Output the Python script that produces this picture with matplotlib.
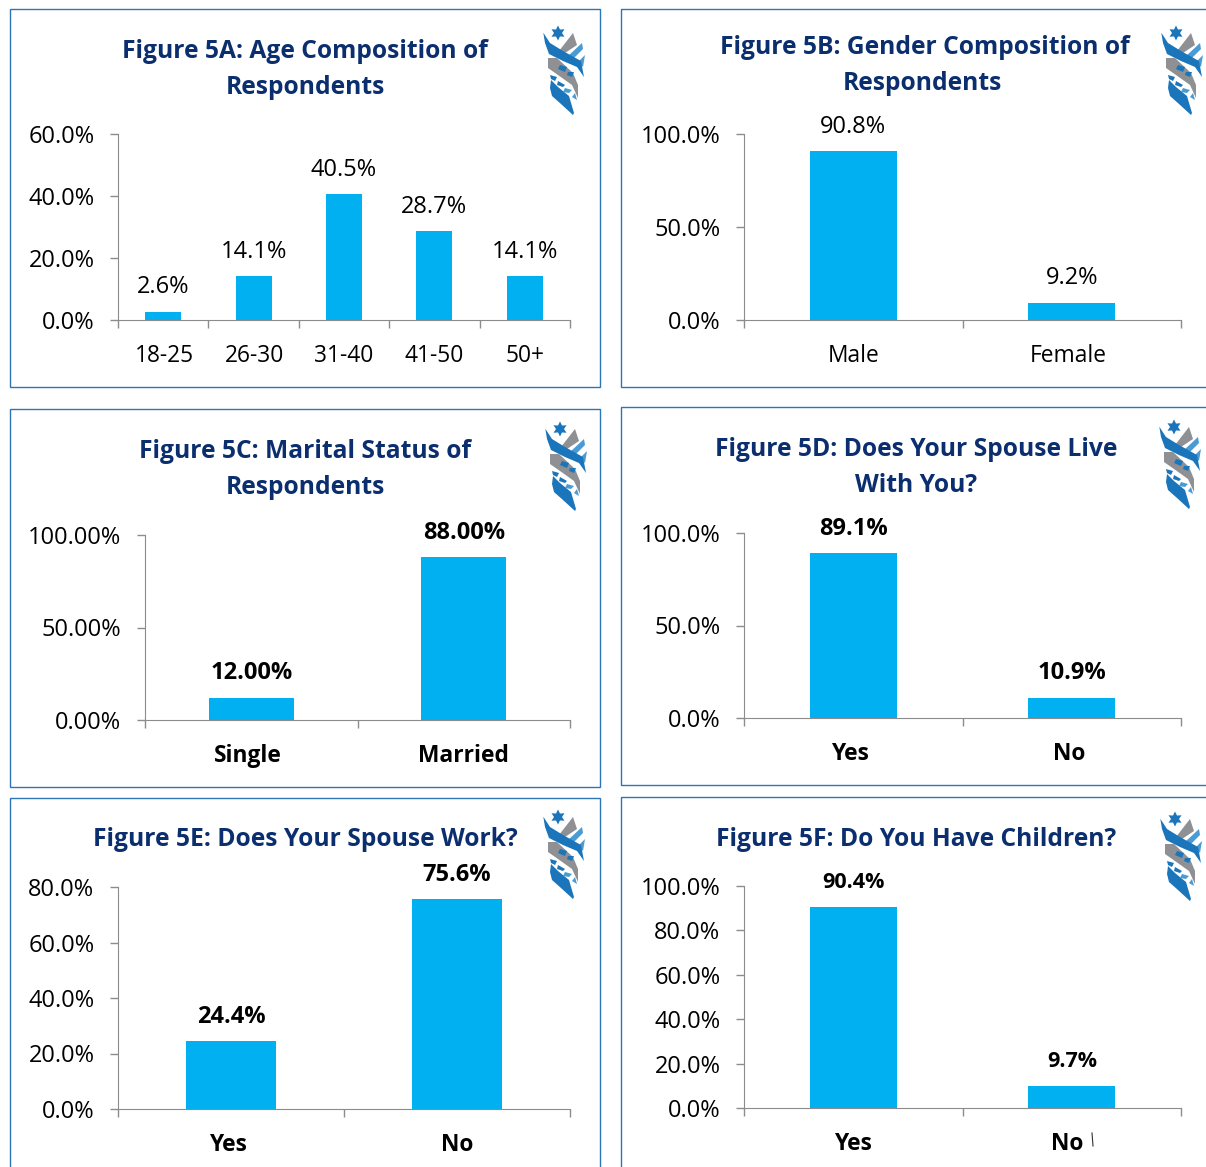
#!/usr/bin/env python3
from math import cos, sin, pi

import matplotlib
matplotlib.use("Agg")
import matplotlib.pyplot as plt
from matplotlib.patches import Polygon, Rectangle

W, H = 1206, 1167
plt.rcParams["font.family"] = ["Open Sans", "DejaVu Sans"]

# data
age_labels = ["18-25", "26-30", "31-40", "41-50", "50+"]
age_values = [2.6, 14.1, 40.5, 28.7, 14.1]
gender_labels = ["Male", "Female"]
gender_values = [90.8, 9.2]
marital_labels = ["Single", "Married"]
marital_values = [12.0, 88.0]
live_labels = ["Yes", "No"]
live_values = [89.1, 10.9]
work_labels = ["Yes", "No"]
work_values = [24.4, 75.6]
children_labels = ["Yes", "No"]
children_values = [90.4, 9.7]

BAR = "#00B0F0"
NAVY = "#0B2E6F"
FRAME = "#2E75B6"
AXIS = "#8C8C8C"
DARK = "#1B75BB"
LIGHT = "#4A9BD4"
GREY = "#8E9093"

fig = plt.figure(figsize=(W / 100, H / 100), dpi=100, facecolor="white")

# overlay in pixel coordinates, y going down
bg = fig.add_axes([0, 0, 1, 1])
bg.set_xlim(0, W)
bg.set_ylim(H, 0)
bg.axis("off")


def logo(x, y):
    # small ribbon logo, x/y is the top left corner
    def P(pts, col):
        bg.add_patch(Polygon([(x + a, y + b) for a, b in pts], closed=True, fc=col, ec="none"))

    star = []
    for i in range(12):
        r = 7.5 if i % 2 == 0 else 4
        star.append((15 + r * sin(i * pi / 6), 9 + r * cos(i * pi / 6)))
    P(star, DARK)
    P([(30, 9), (34, 21), (22, 29), (16, 27)], GREY)
    P([(39, 19), (40, 25), (29, 36), (24, 33)], LIGHT)
    P([(42, 31), (40, 43), (35, 38)], LIGHT)
    P([(0.3, 8.7), (7, 19), (20, 27), (38, 37), (41, 53), (34, 43), (20, 37), (6, 30), (2, 19)], DARK)
    P([(5, 34), (14, 34), (30, 49), (35, 61), (35, 74), (29, 61), (15, 51), (5, 44)], GREY)
    P([(17, 41), (24, 43), (22, 48), (15, 45)], DARK)
    P([(25, 48), (31, 48), (29, 53), (24, 51)], DARK)
    P([(7, 51), (14, 53), (12, 57), (8, 55)], DARK)
    P([(8, 56), (15, 63), (26, 72), (31, 89), (30, 91), (18, 80), (9, 72), (7, 64)], DARK)
    P([(15, 57), (22, 61), (20, 63), (14, 61)], DARK)
    P([(22, 64), (29, 66), (26, 69), (20, 68)], LIGHT)
    P([(32, 69), (34, 76), (29, 73)], LIGHT)


def panel(frame, box, title, title_pos, labels, values, yticks, fmt,
          logo_pos, bold=False, bar_w=0.4, label_size=17.0, label_dx=None):
    left, top, right, bottom = frame
    bg.add_patch(Rectangle((left, top), right - left, bottom - top, fc="none", ec=FRAME, lw=1.0, clip_on=False))
    for line, (tx, ty) in zip(title, title_pos):
        bg.text(tx, ty + 3, line, ha="center", va="center", fontsize=17.7, fontweight="bold", color=NAVY)
    logo(*logo_pos)

    x0, y0, x1, y1 = box
    ax = fig.add_axes([x0 / W, 1 - y1 / H, (x1 - x0 - 1) / W, (y1 - y0) / H])
    ax.patch.set_alpha(0)
    xs = list(range(len(labels)))
    ax.bar(xs, values, width=bar_w, color=BAR)
    ax.set_xlim(-0.5, len(labels) - 0.5)
    ax.set_ylim(yticks[0], yticks[-1])
    ax.set_yticks(yticks)
    ax.set_yticklabels([fmt % v for v in yticks], fontsize=17, color="black")
    ax.set_xticks([i - 0.5 for i in range(len(labels) + 1)])
    ax.set_xticklabels([])
    ax.tick_params(axis="both", length=6, width=1, color=AXIS, direction="out", pad=11)
    for side in ("top", "right"):
        ax.spines[side].set_visible(False)
    for side in ("left", "bottom"):
        ax.spines[side].set_color(AXIS)
    weight = "bold" if bold else "normal"
    dxs = label_dx or [0] * len(labels)
    for xv, lab, val, dx in zip(xs, labels, values, dxs):
        ax.annotate(fmt % val, (xv, val), xytext=(0, 24.5 * 0.72),
                    textcoords="offset points", ha="center", va="center",
                    fontsize=label_size, fontweight=weight, color="black")
        ax.annotate(lab, (xv, 0), xytext=(dx * 0.72, -36 * 0.72), textcoords="offset points",
                    ha="center", va="center", fontsize=16.4, fontweight=weight, color="black")
    return ax


panel((10, 9, 600, 387), (118, 134, 571, 320),
      ["Figure 5A: Age Composition of", "Respondents"], [(305, 48), (305, 84)],
      age_labels, age_values, [0, 20, 40, 60], "%.1f%%", (543, 24), label_dx=[1, 1, 0, 0, 0])
panel((621, 9, 1215, 387), (744, 134, 1182, 320),
      ["Figure 5B: Gender Composition of", "Respondents"], [(925, 45), (922, 81)],
      gender_labels, gender_values, [0, 50, 100], "%.1f%%", (1161, 24), label_dx=[0, -3])
panel((10, 409, 600, 787), (145, 535, 571, 720),
      ["Figure 5C: Marital Status of", "Respondents"], [(305, 449), (305, 484)],
      marital_labels, marital_values, [0, 50, 100], "%.2f%%", (545, 420), bold=True,
      label_dx=[-3, 0])
panel((621, 407, 1215, 785), (744, 533, 1182, 718),
      ["Figure 5D: Does Your Spouse Live", "With You?"], [(916, 447), (916, 482)],
      live_labels, live_values, [0, 50, 100], "%.1f%%", (1159, 418), bold=True,
      label_dx=[-3, -3])
panel((10, 798, 600, 1180), (118, 887, 571, 1109),
      ["Figure 5E: Does Your Spouse Work?"], [(305, 837)],
      work_labels, work_values, [0, 20, 40, 60, 80], "%.1f%%", (543, 808), bold=True,
      label_dx=[-3, 0])
panel((621, 797, 1215, 1180), (744, 886, 1182, 1108),
      ["Figure 5F: Do You Have Children?"], [(916, 836)],
      children_labels, children_values, [0, 20, 40, 60, 80, 100], "%.1f%%", (1160, 810),
      bold=True, label_size=15.5, label_dx=[0, -5])

# stray mark next to the No label in 5F
bg.plot([1092, 1093], [1133, 1146], color="#333333", lw=0.8)

fig.savefig("out.png", dpi=100)
